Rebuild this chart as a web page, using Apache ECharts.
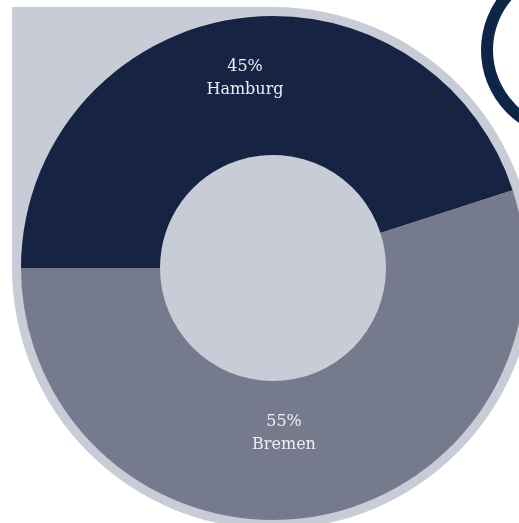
<!DOCTYPE html>
<html>
<head>
<meta charset="utf-8">
<script src="https://cdn.jsdelivr.net/npm/echarts@6/dist/echarts.min.js"></script>
<style>
  html, body { margin: 0; padding: 0; background: #ffffff; }
  #chart { width: 519px; height: 523px; }
</style>
</head>
<body>
<div id="chart"></div>
<script>
// City split of the total
const cities = ['Hamburg', 'Bremen'];
const shares = [45, 55];
const colors = ['#172343', '#757b8d'];
const labelShift = [[1, -6], [-18, -18]];

const CX = 273, CY = 268;
const panel = '#c8ccd6';

const chart = echarts.init(document.getElementById('chart'), null, { renderer: 'canvas' });

chart.setOption({
  backgroundColor: '#ffffff',
  animation: false,
  graphic: [
    // light backdrop: square corner top-left, round elsewhere
    { type: 'rect', z: 0, shape: { x: 12, y: 7, width: CX - 12, height: CY - 7 }, style: { fill: panel } },
    { type: 'circle', z: 0, shape: { cx: CX, cy: CY, r: 261 }, style: { fill: panel } },
    // decorative ring at the top right
    { type: 'circle', z: 0, shape: { cx: 570, cy: 50, r: 83 }, style: { fill: 'none', stroke: '#0f2548', lineWidth: 12 } }
  ],
  series: [{
    type: 'pie',
    z: 5,
    center: [CX, CY],
    radius: [113, 252],
    startAngle: 180,
    clockwise: true,
    silent: true,
    itemStyle: { borderWidth: 0 },
    label: {
      show: true,
      position: 'inside',
      formatter: p => p.value + '%\n' + p.name,
      color: '#eceef3',
      fontFamily: 'DejaVu Serif',
      fontSize: 16,
      lineHeight: 23
    },
    labelLine: { show: false },
    data: cities.map((c, i) => ({
      name: c,
      value: shares[i],
      itemStyle: { color: colors[i] },
      label: { offset: labelShift[i] }
    }))
  }]
});
</script>
</body>
</html>
